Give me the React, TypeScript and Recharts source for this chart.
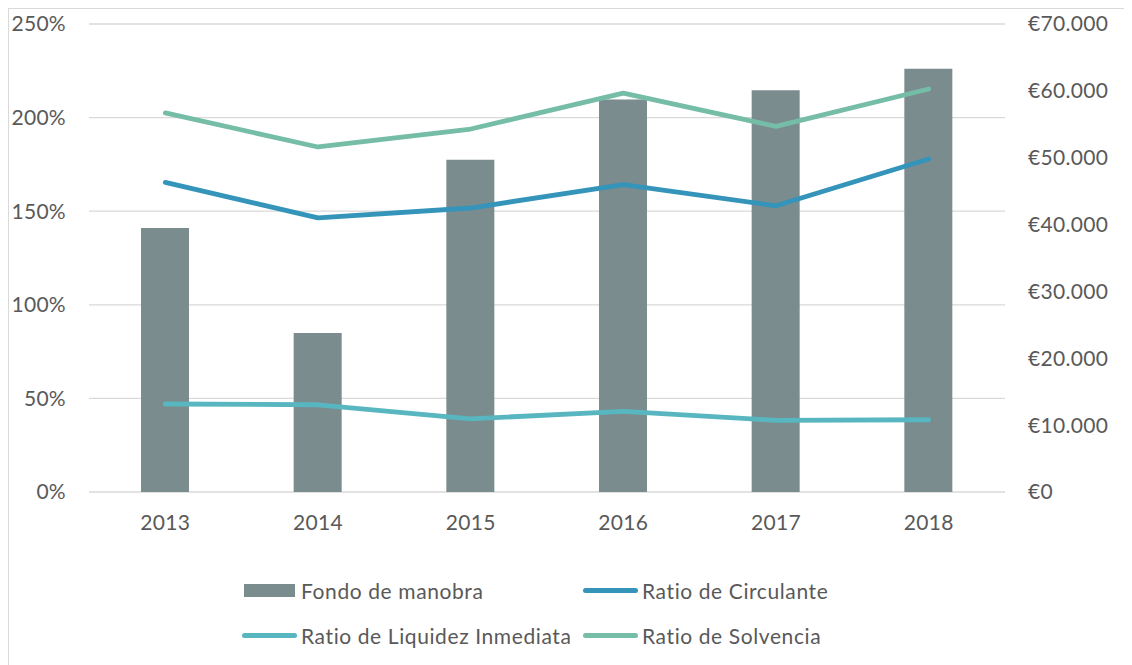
import { ComposedChart, Bar, Line, XAxis, YAxis, CartesianGrid } from 'recharts';

const years = ['2013', '2014', '2015', '2016', '2017', '2018'];
const fondoManobra = [39500, 23800, 49700, 58700, 60100, 63300];
const ratioCirculante = [165.4, 146.4, 151.7, 164.2, 152.9, 177.9];
const ratioLiquidez = [47.0, 46.6, 39.1, 43.1, 38.3, 38.6];
const ratioSolvencia = [202.5, 184.3, 193.9, 213.1, 195.3, 215.3];

const leftTicks = [0, 50, 100, 150, 200, 250];
const rightTicks = [0, 10000, 20000, 30000, 40000, 50000, 60000, 70000];

const series = [
    { key: 'fondo', name: 'Fondo de manobra', color: '#7A8C8E', type: 'bar' },
    { key: 'circulante', name: 'Ratio de Circulante', color: '#3494BA', type: 'line' },
    { key: 'liquidez', name: 'Ratio de Liquidez Inmediata', color: '#58B6C0', type: 'line' },
    { key: 'solvencia', name: 'Ratio de Solvencia', color: '#75BDA7', type: 'line' },
];

const data = years.map((year, i) => ({
    year,
    fondo: fondoManobra[i],
    circulante: ratioCirculante[i],
    liquidez: ratioLiquidez[i],
    solvencia: ratioSolvencia[i],
}));

const FONT = 'Lato, "Open Sans", sans-serif';
const TEXT = '#595959';
const tickStyle = { fill: TEXT, fontSize: 21, fontFamily: FONT, letterSpacing: 0.3 };

// 10000 -> €10.000
const euro = (v: number) => '€' + String(v).replace(/\B(?=(\d{3})+(?!\d))/g, '.');

const LegendItem = ({ s }: { s: typeof series[number] }) => (
    <div style={{ display: 'flex', alignItems: 'center' }}>
        <div style={{ width: 57, display: 'flex', alignItems: 'center', justifyContent: 'center' }}>
            {s.type === 'bar'
                ? <div style={{ width: 51, height: 13, background: s.color }} />
                : <div style={{ width: 55, height: 5, borderRadius: 3, background: s.color }} />}
        </div>
        <span style={{ marginLeft: 3 }}>{s.name}</span>
    </div>
);

const App = () => {
    return (
        <div style={{ position: 'relative', width: 1123, height: 656, borderLeft: '1px solid #d9d9d9', borderTop: '1px solid #d9d9d9', fontFamily: FONT }}>
            <ComposedChart width={1123} height={656} data={data} margin={{ top: 15, right: 0, left: 0, bottom: 133 }}>
                <CartesianGrid yAxisId="left" vertical={false} stroke="#d9d9d9" strokeWidth={1.3} />
                <XAxis
                    dataKey="year"
                    axisLine={false}
                    tickLine={false}
                    tickMargin={17}
                    height={40}
                    tick={tickStyle}
                />
                <YAxis
                    yAxisId="left"
                    orientation="left"
                    width={80}
                    domain={[0, 250]}
                    ticks={leftTicks}
                    axisLine={false}
                    tickLine={false}
                    tickMargin={17}
                    tickFormatter={(v: number) => `${v}%`}
                    tick={tickStyle}
                />
                <YAxis
                    yAxisId="right"
                    orientation="right"
                    width={127}
                    domain={[0, 70000]}
                    ticks={rightTicks}
                    axisLine={false}
                    tickLine={false}
                    tickMargin={17}
                    tickFormatter={euro}
                    tick={{ ...tickStyle, textAnchor: 'start' }}
                />
                <Bar yAxisId="right" dataKey="fondo" fill="#7A8C8E" barSize={48} isAnimationActive={false} />
                {series.filter(s => s.type === 'line').map(s => (
                    <Line
                        key={s.key}
                        yAxisId="left"
                        dataKey={s.key}
                        stroke={s.color}
                        strokeWidth={4.8}
                        strokeLinecap="round"
                        strokeLinejoin="round"
                        dot={false}
                        activeDot={false}
                        isAnimationActive={false}
                    />
                ))}
            </ComposedChart>

            {/* Legend */}
            <div style={{ position: 'absolute', left: 232, top: 567, display: 'grid', gridTemplateColumns: '341px auto', rowGap: 16, fontSize: 21, letterSpacing: 0.6, color: TEXT, lineHeight: '29px' }}>
                {series.map(s => <LegendItem key={s.key} s={s} />)}
            </div>
        </div>
    );
};

export default App;
